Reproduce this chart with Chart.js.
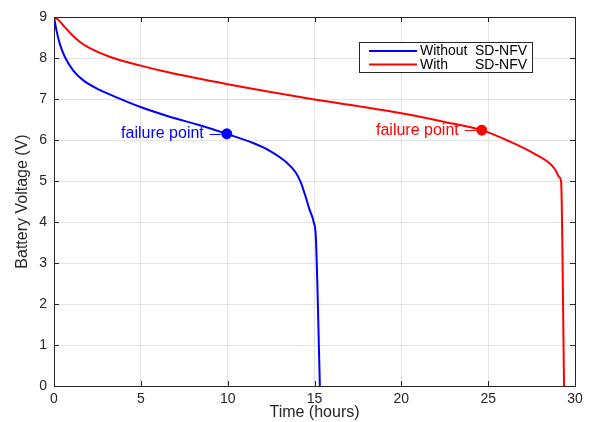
<!DOCTYPE html>
<html>
<head>
<meta charset="utf-8">
<script src="https://cdn.jsdelivr.net/npm/chart.js@4/dist/chart.umd.min.js"></script>
<style>
  body { margin: 0; background: #fff; }
  canvas { display: block; }
</style>
</head>
<body>
<canvas id="batteryChart" width="590" height="422"></canvas>
<script>
// values
const timeWithout = [0, 0.14, 0.33, 0.62, 1.1, 1.67, 2.63, 3.6, 4.94, 6.57, 8.3, 9.95, 11.5, 12.45, 13.4, 13.9, 14.2, 14.45, 14.7, 14.95, 15.08, 15.31];
const voltWithout = [9, 8.68, 8.35, 8.03, 7.70, 7.46, 7.22, 7.04, 6.81, 6.58, 6.37, 6.15, 5.92, 5.73, 5.45, 5.22, 4.98, 4.67, 4.32, 4.0, 3.6, 0];

const timeWith = [0, 0.25, 0.5, 1.0, 1.5, 2.06, 3.2, 4.94, 6.57, 10, 15, 17.6, 20, 22.5, 24.63, 26.26, 27.6, 28.6, 28.9, 29.1, 29.2, 29.37];
const voltWith = [9, 8.93, 8.81, 8.58, 8.39, 8.24, 8.03, 7.82, 7.65, 7.36, 6.99, 6.82, 6.65, 6.44, 6.24, 5.96, 5.68, 5.41, 5.25, 5.09, 4.98, 0];

const failureWithout = [9.95, 6.15];
const failureWith = [24.63, 6.24];

const seriesNames = ["Without", "With"];
const xTicks = [0, 5, 10, 15, 20, 25, 30];
const yTicks = [0, 1, 2, 3, 4, 5, 6, 7, 8, 9];

const BLUE = "#0000ff";
const RED = "#ff0000";
const AXIS = "#262626";
const FONT = "'Liberation Sans', Arial, sans-serif";

function toPoints(xs, ys) {
    return xs.map((x, i) => ({ x: x, y: ys[i] }));
}

const matlabStyle = {
    id: "matlabStyle",
    afterDraw: function (chart) {
        const ctx = chart.ctx;
        const area = chart.chartArea;
        const xs = chart.scales.x;
        const ys = chart.scales.y;
        ctx.save();

        // box + inward ticks
        ctx.strokeStyle = AXIS;
        ctx.lineWidth = 1;
        ctx.beginPath();
        ctx.moveTo(area.left, area.top + 0.5);
        ctx.lineTo(area.right + 0.5, area.top + 0.5);
        ctx.lineTo(area.right + 0.5, area.bottom);
        xTicks.forEach(function (t) {
            const px = Math.round(xs.getPixelForValue(t)) + 0.5;
            ctx.moveTo(px, area.bottom);
            ctx.lineTo(px, area.bottom - 5);
            ctx.moveTo(px, area.top);
            ctx.lineTo(px, area.top + 5);
        });
        yTicks.forEach(function (t) {
            const py = Math.round(ys.getPixelForValue(t)) + 0.5;
            ctx.moveTo(area.left, py);
            ctx.lineTo(area.left + 5, py);
            ctx.moveTo(area.right, py);
            ctx.lineTo(area.right - 5, py);
        });
        ctx.stroke();

        // failure point labels
        ctx.font = "16px " + FONT;
        ctx.textBaseline = "middle";
        ctx.textAlign = "right";
        [[failureWithout, BLUE], [failureWith, RED]].forEach(function (f) {
            const px = xs.getPixelForValue(f[0][0]);
            const py = ys.getPixelForValue(f[0][1]);
            ctx.fillStyle = f[1];
            ctx.strokeStyle = f[1];
            ctx.fillText("failure point", px - 23, py);
            ctx.beginPath();
            ctx.moveTo(px - 17, Math.round(py) + 0.5);
            ctx.lineTo(px - 6, Math.round(py) + 0.5);
            ctx.stroke();
        });

        // legend
        const lx = 359.5, ly = 42.5, lw = 173, lh = 30;
        ctx.fillStyle = "#fff";
        ctx.fillRect(lx, ly, lw, lh);
        ctx.strokeStyle = AXIS;
        ctx.lineWidth = 1;
        ctx.strokeRect(lx, ly, lw, lh);
        ctx.font = "14px " + FONT;
        ctx.textAlign = "left";
        [[seriesNames[0], BLUE, 51], [seriesNames[1], RED, 64.5]].forEach(function (e) {
            ctx.strokeStyle = e[1];
            ctx.lineWidth = 2;
            ctx.beginPath();
            ctx.moveTo(369, e[2]);
            ctx.lineTo(417, e[2]);
            ctx.stroke();
            ctx.fillStyle = "#000";
            ctx.fillText(e[0], 420, e[2] + 0.5);
            ctx.fillText("SD-NFV", 475, e[2] + 0.5);
        });

        // axis titles
        ctx.fillStyle = AXIS;
        ctx.font = "16px " + FONT;
        ctx.textAlign = "center";
        ctx.fillText("Time (hours)", (area.left + area.right) / 2, 413);
        ctx.translate(23, (area.top + area.bottom) / 2);
        ctx.rotate(-Math.PI / 2);
        ctx.fillText("Battery Voltage (V)", 0, 0);
        ctx.restore();
    }
};

new Chart(document.getElementById("batteryChart").getContext("2d"), {
    type: "line",
    data: {
        datasets: [
            {
                label: "Without SD-NFV",
                data: toPoints(timeWithout, voltWithout),
                borderColor: BLUE,
                borderWidth: 2,
                pointRadius: 0,
                cubicInterpolationMode: "monotone",
            },
            {
                label: "With SD-NFV",
                data: toPoints(timeWith, voltWith),
                borderColor: RED,
                borderWidth: 2,
                pointRadius: 0,
                cubicInterpolationMode: "monotone",
            },
            {
                data: [{ x: failureWithout[0], y: failureWithout[1] }],
                showLine: false,
                pointRadius: 5,
                backgroundColor: BLUE,
                borderColor: BLUE,
            },
            {
                data: [{ x: failureWith[0], y: failureWith[1] }],
                showLine: false,
                pointRadius: 5,
                backgroundColor: RED,
                borderColor: RED,
            },
        ],
    },
    options: {
        responsive: false,
        animation: false,
        layout: { padding: { top: 17, right: 15, left: 0, bottom: 0 } },
        plugins: {
            legend: { display: false },
            tooltip: { enabled: false },
        },
        scales: {
            x: {
                type: "linear",
                min: 0,
                max: 30,
                afterBuildTicks: function (s) { s.ticks = xTicks.map((v) => ({ value: v })); },
                afterFit: function (s) { s.height = 36; },
                grid: { color: "#e3e3e3", drawTicks: false },
                border: { color: AXIS },
                ticks: { color: AXIS, font: { family: FONT, size: 14 }, padding: 5, maxRotation: 0 },
            },
            y: {
                min: 0,
                max: 9,
                afterBuildTicks: function (s) { s.ticks = yTicks.map((v) => ({ value: v })); },
                afterFit: function (s) { s.width = 54; },
                grid: { color: "#e3e3e3", drawTicks: false },
                border: { color: AXIS },
                ticks: { color: AXIS, font: { family: FONT, size: 14 }, padding: 7 },
            },
        },
    },
    plugins: [matlabStyle],
});
</script>
</body>
</html>
